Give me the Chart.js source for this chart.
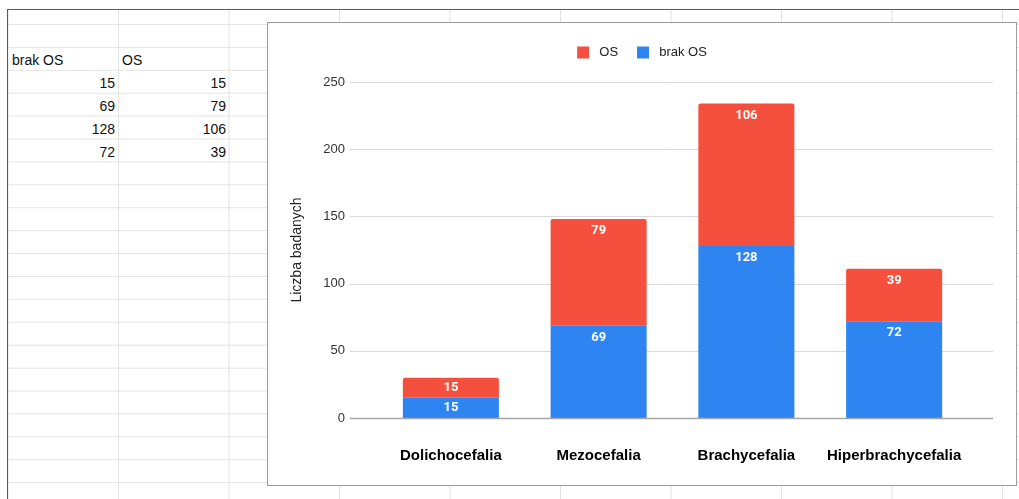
<!DOCTYPE html>
<html lang="pl">
<head>
    <meta charset="UTF-8">
    <title>Liczba badanych</title>
    <style>
        body {
            margin: 0;
            padding: 0;
            background: #fff;
            font-family: "Liberation Sans", Arial, sans-serif;
            width: 1019px;
            height: 499px;
            overflow: hidden;
            position: relative;
        }
        /* arkusz w tle */
        .sheet {
            position: absolute;
            left: 7px;
            top: 9px;
            width: 1012px;
            height: 490px;
            border-left: 1.5px solid #5a5a5a;
            border-top: 1.5px solid #5a5a5a;
            background-image:
                linear-gradient(to bottom, #e3e3e3 1px, transparent 1px),
                linear-gradient(to right, #e3e3e3 1px, transparent 1px);
            background-size: 100% 22.92px, 110.5px 100%;
            background-position: 0 14px, 110px 0;
        }
        .cell {
            position: absolute;
            height: 23px;
            line-height: 24px;
            font-size: 14px;
            color: #111;
            box-sizing: border-box;
        }
        .colA { left: 8px; width: 110px; }
        .colB { left: 118px; width: 111px; }
        .num { text-align: right; padding-right: 3px; }
        .txt { text-align: left; padding-left: 4px; }
        .chart-box {
            position: absolute;
            left: 267px;
            top: 22px;
            width: 748px;
            height: 462px;
            border: 1px solid #9c9c9c;
            background: #fff;
        }
    </style>
</head>
<body>
    <div class="sheet"></div>
    <div id="table"></div>
    <div class="chart-box">
        <canvas id="chart"></canvas>
    </div>

    <script src="https://cdn.jsdelivr.net/npm/chart.js"></script>
    <script>
        // dane
        const categories = ['Dolichocefalia', 'Mezocefalia', 'Brachycefalia', 'Hiperbrachycefalia'];
        const brakOS = [15, 69, 128, 72];
        const os = [15, 79, 106, 39];
        const yTicks = [0, 50, 100, 150, 200, 250];

        const BLUE = '#2e84f0';
        const RED = '#f5503e';

        // tabela w arkuszu (te same liczby)
        const table = document.getElementById('table');
        const rowTops = [48, 71, 94, 117, 140];
        function addCell(cls, text, top) {
            const d = document.createElement('div');
            d.className = 'cell ' + cls;
            d.style.top = top + 'px';
            d.textContent = text;
            table.appendChild(d);
        }
        addCell('colA txt', 'brak OS', rowTops[0]);
        addCell('colB txt', 'OS', rowTops[0]);
        brakOS.forEach((v, i) => {
            addCell('colA num', v, rowTops[i + 1]);
            addCell('colB num', os[i], rowTops[i + 1]);
        });

        // linie siatki rozciagniete poza obszar slupkow (jak w Google Sheets)
        const fullGrid = {
            id: 'fullGrid',
            beforeDatasetsDraw(chart) {
                const { ctx, chartArea, scales: { y } } = chart;
                ctx.save();
                y.ticks.forEach(t => {
                    if (t.value === 0) return;
                    const py = Math.round(y.getPixelForValue(t.value)) + 0.5;
                    ctx.beginPath();
                    ctx.strokeStyle = '#d9d9d9';
                    ctx.lineWidth = 1;
                    ctx.moveTo(chartArea.left - 27, py);
                    ctx.lineTo(chartArea.right + 25, py);
                    ctx.stroke();
                });
                ctx.restore();
            },
            afterDatasetsDraw(chart) {
                const { ctx, chartArea, scales: { y } } = chart;
                const py = y.getPixelForValue(0) + 0.5;
                ctx.save();
                ctx.beginPath();
                ctx.strokeStyle = '#a6a6a6';
                ctx.lineWidth = 1.5;
                ctx.moveTo(chartArea.left - 27, py);
                ctx.lineTo(chartArea.right + 25, py);
                ctx.stroke();
                ctx.restore();
            }
        };

        // etykiety wartosci w slupkach
        const barLabels = {
            id: 'barLabels',
            afterDatasetsDraw(chart) {
                const ctx = chart.ctx;
                ctx.save();
                ctx.font = 'bold 13px Roboto, "Liberation Sans", sans-serif';
                ctx.fillStyle = '#ffffff';
                ctx.textAlign = 'center';
                ctx.textBaseline = 'middle';
                chart.data.datasets.forEach((ds, i) => {
                    chart.getDatasetMeta(i).data.forEach((bar, j) => {
                        const top = Math.min(bar.y, bar.base);
                        const h = Math.abs(bar.base - bar.y);
                        const cy = h < 26 ? top + h / 2 : top + 12;
                        ctx.fillText(ds.data[j], bar.x, cy);
                    });
                });
                ctx.restore();
            }
        };

        // stala wysokosc legendy
        const legendFit = {
            id: 'legendFit',
            afterInit(chart) {
                const fit = chart.legend.fit;
                chart.legend.fit = function () {
                    fit.call(this);
                    this.height = 55;
                };
            }
        };

        Chart.defaults.font.family = '"Liberation Sans", Arial, sans-serif';
        Chart.defaults.color = '#333';

        new Chart(document.getElementById('chart').getContext('2d'), {
            type: 'bar',
            data: {
                labels: categories,
                datasets: [
                    {
                        label: 'brak OS',
                        data: brakOS,
                        backgroundColor: BLUE,
                        borderWidth: 0
                    },
                    {
                        label: 'OS',
                        data: os,
                        backgroundColor: RED,
                        borderWidth: 0,
                        borderRadius: { topLeft: 2, topRight: 2 },
                        borderSkipped: 'start'
                    }
                ]
            },
            options: {
                responsive: true,
                maintainAspectRatio: false,
                animation: false,
                layout: { padding: { top: 4, right: 0, left: 0, bottom: 0 } },
                datasets: {
                    bar: { categoryPercentage: 1, barPercentage: 0.65 }
                },
                plugins: {
                    legend: {
                        position: 'top',
                        reverse: true,
                        labels: {
                            boxWidth: 12,
                            boxHeight: 12,
                            padding: 19,
                            color: '#222',
                            font: { size: 13 },
                            generateLabels(chart) {
                                return Chart.defaults.plugins.legend.labels.generateLabels(chart)
                                    .map(item => Object.assign(item, { text: ' ' + item.text }));
                            }
                        }
                    },
                    tooltip: { enabled: false }
                },
                scales: {
                    x: {
                        stacked: true,
                        grid: { display: false, drawTicks: false },
                        border: { display: false },
                        ticks: {
                            color: '#000',
                            font: { size: 15, weight: 'bold' },
                            padding: 29,
                            maxRotation: 0
                        },
                        afterFit(scale) { scale.height = 67; }
                    },
                    y: {
                        stacked: true,
                        min: 0,
                        max: 250,
                        grid: { display: false, drawTicks: false },
                        border: { display: false },
                        afterBuildTicks(scale) {
                            scale.ticks = yTicks.map(v => ({ value: v }));
                        },
                        ticks: {
                            color: '#333',
                            font: { size: 13 },
                            padding: 32
                        },
                        title: {
                            display: true,
                            text: 'Liczba badanych',
                            color: '#222',
                            font: { size: 14 },
                            padding: { top: 21, bottom: 0 }
                        },
                        afterFit(scale) { scale.width = 109; }
                    },
                    // pusty margines z prawej strony obszaru wykresu
                    yRight: {
                        position: 'right',
                        min: 0,
                        max: 250,
                        grid: { display: false, drawTicks: false },
                        border: { display: false },
                        ticks: { display: false },
                        afterFit(scale) { scale.width = 48; }
                    }
                }
            },
            plugins: [fullGrid, barLabels, legendFit]
        });
    </script>
</body>
</html>
